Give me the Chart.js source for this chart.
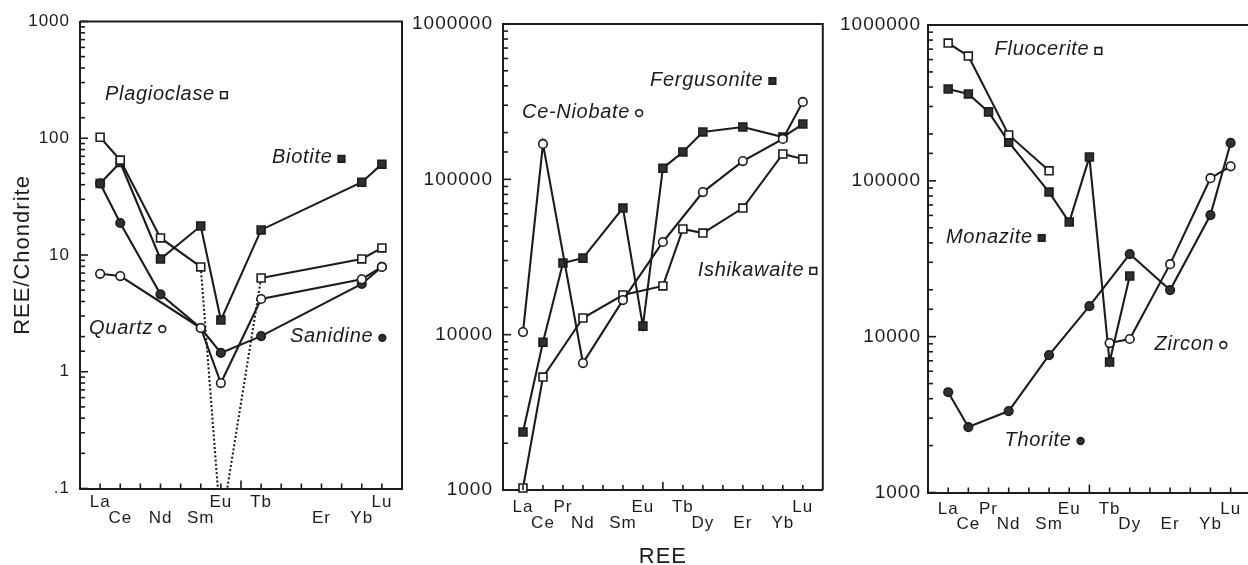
<!DOCTYPE html>
<html>
<head>
<meta charset="utf-8">
<script src="https://cdn.jsdelivr.net/npm/chart.js@4.4.1/dist/chart.umd.min.js"></script>
<style>
  html, body { margin: 0; padding: 0; background: #fff; width: 1248px; height: 565px; overflow: hidden; }
  canvas { position: absolute; top: 0; }
</style>
</head>
<body>
<canvas id="c1" width="410" height="565" style="left:0px"></canvas>
<canvas id="c2" width="425" height="565" style="left:405px"></canvas>
<canvas id="c3" width="428" height="565" style="left:830px"></canvas>
<script>
// ---------- DATA ----------
const elements = ['La','Ce','Pr','Nd','Pm','Sm','Eu','Gd','Tb','Dy','Ho','Er','Tm','Yb','Lu'];
const axisLabels1 = ['La','Ce','Nd','Sm','Eu','Tb','Er','Yb','Lu'];
const axisLabels23 = ['La','Ce','Pr','Nd','Sm','Eu','Tb','Dy','Er','Yb','Lu'];
const lowerRowLabels = ['Ce','Nd','Sm','Dy','Er','Yb'];

const yTickValues1 = [0.1, 1, 10, 100, 1000];
const yTickText1   = ['.1', '1', '10', '100', '1000'];
const yTickValues23 = [1000, 10000, 100000, 1000000];
const yTickText23   = ['1000', '10000', '100000', '1000000'];

// Panel 1 (feldspars, micas, quartz)
const plagioclase = [102, 65, null, 14, null, 7.9, 0.046, null, 6.35, null, null, null, null, 9.25, 11.5];
const biotite     = [41, 62, null, 9.25, null, 17.7, 2.77, null, 16.4, null, null, null, null, 42, 60];
const quartz      = [6.9, 6.6, null, null, null, 2.37, 0.8, null, 4.2, null, null, null, null, 6.2, 7.9];
const sanidine    = [41, 18.8, null, 4.6, null, 2.37, 1.45, null, 2.02, null, null, null, null, 5.65, 7.9];

// Panel 2
const ceNiobate   = [10400, 169000, null, 6560, null, 16700, null, 39500, null, 82800, null, 131000, null, 182000, 315000];
const ishikawaite = [1030, 5330, null, 12800, null, 18000, null, 20600, 47900, 45100, null, 65300, null, 145600, 135000];
const fergusonite = [2360, 8950, 28900, 31100, null, 65300, 11350, 118000, 150000, 202000, null, 217000, null, 187000, 227000];

// Panel 3
const fluocerite  = [766000, 632000, null, 197000, null, 116000, null, null, null, null, null, null, null, null, null];
const monazite    = [388000, 361000, 277000, 177000, null, 84700, 54400, 142000, 6870, 24500, null, null, null, null, null];
const zircon      = [null, null, null, null, null, null, null, null, 9100, 9660, null, 29200, null, 104000, 124000];
const thorite     = [4400, 2630, null, 3330, null, 7620, null, 15700, null, 33900, null, 19900, null, 60300, 175000];

// ---------- STYLE ----------
const FONT = '"Liberation Sans", Arial, Helvetica, sans-serif';
const ink = '#1c1c1c';
const fillInk = '#303030';

function isPow10(v) { const l = Math.log10(v); return Math.abs(l - Math.round(l)) < 1e-6; }

function series(values) {
  return values.map((v, i) => v == null ? null : { x: i, y: v }).filter(Boolean);
}

function ds(label, values, shape, filled, extra) {
  return Object.assign({
    label: label,
    data: series(values),
    borderColor: ink,
    borderWidth: 2.1,
    pointStyle: shape,
    pointRadius: shape === 'rect' ? 5.6 : 4.3,
    pointBorderWidth: 1.6,
    pointBorderColor: ink,
    pointBackgroundColor: filled ? fillInk : '#fff',
    tension: 0,
    fill: false,
    clip: 12
  }, extra || {});
}

const euIndex = elements.indexOf('Eu');

// annotation labels (positions in data units)
const notes1 = [
  { text: 'Plagioclase', x: 0.24, y: 239, shape: 'rect', filled: false },
  { text: 'Biotite', x: 8.54, y: 68, shape: 'rect', filled: true },
  { text: 'Quartz', x: -0.55, y: 2.37, shape: 'circle', filled: false },
  { text: 'Sanidine', x: 9.43, y: 1.99, shape: 'circle', filled: true }
];
const notes2 = [
  { text: 'Fergusonite', x: 6.36, y: 436000, shape: 'rect', filled: true },
  { text: 'Ce-Niobate', x: -0.05, y: 271000, shape: 'circle', filled: false },
  { text: 'Ishikawaite', x: 8.74, y: 26100, shape: 'rect', filled: false }
];
const notes3 = [
  { text: 'Fluocerite', x: 2.3, y: 692000, shape: 'rect', filled: false },
  { text: 'Monazite', x: -0.11, y: 43600, shape: 'rect', filled: true },
  { text: 'Thorite', x: 2.79, y: 2170, shape: 'circle', filled: true },
  { text: 'Zircon', x: 10.23, y: 8970, shape: 'circle', filled: false }
];

const framePlugin = {
  id: 'frame',
  beforeDraw(chart) {
    chart.ctx.letterSpacing = '1px';
  },
  afterDraw(chart, args, opts) {
    const ctx = chart.ctx;
    const a = chart.chartArea;
    const xs = chart.scales.x, ys = chart.scales.y;
    ctx.save();
    ctx.strokeStyle = ink;
    ctx.lineWidth = 2;
    ctx.beginPath();
    ctx.moveTo(a.left, a.top);
    ctx.lineTo(a.right, a.top);
    ctx.lineTo(a.right, a.bottom);
    ctx.stroke();
    // inward tick marks
    ctx.lineWidth = 1.6;
    elements.forEach((el, i) => {
      const px = xs.getPixelForValue(i);
      const len = el === 'Gd' ? 8 : 5;
      ctx.beginPath(); ctx.moveTo(px, a.bottom); ctx.lineTo(px, a.bottom - len); ctx.stroke();
    });
    ys.ticks.forEach(t => {
      const py = ys.getPixelForValue(t.value);
      const len = isPow10(t.value) ? 8 : 5;
      ctx.beginPath(); ctx.moveTo(a.left, py); ctx.lineTo(a.left + len, py); ctx.stroke();
    });
    // annotations
    ctx.font = 'italic 20px ' + FONT;
    ctx.letterSpacing = '0.7px';
    ctx.fillStyle = ink;
    ctx.textBaseline = 'middle';
    ctx.textAlign = 'left';
    (opts.notes || []).forEach(n => {
      const px = xs.getPixelForValue(n.x), py = ys.getPixelForValue(n.y);
      ctx.fillText(n.text, px, py);
      const w = ctx.measureText(n.text).width;
      const mx = px + w + 9, my = py + 1;
      ctx.lineWidth = 1.6;
      ctx.beginPath();
      if (n.shape === 'rect') ctx.rect(mx - 3.3, my - 3.3, 6.6, 6.6);
      else ctx.arc(mx, my, 3.4, 0, Math.PI * 2);
      ctx.fillStyle = n.filled ? fillInk : '#fff';
      ctx.fill();
      ctx.stroke();
      ctx.fillStyle = ink;
    });
    ctx.restore();
  }
};

function makeChart(id, cfg) {
  return new Chart(document.getElementById(id), {
    type: 'line',
    data: { datasets: cfg.datasets },
    options: {
      responsive: false,
      animation: false,
      devicePixelRatio: 1,
      layout: { padding: { left: 0, top: cfg.top, right: cfg.padRight, bottom: 0 } },
      plugins: {
        legend: { display: false },
        tooltip: { enabled: false },
        frame: { notes: cfg.notes }
      },
      scales: {
        x: {
          type: 'linear',
          min: -1, max: 15,
          afterBuildTicks(s) { s.ticks = elements.map((e, i) => ({ value: i })); },
          afterFit(s) { s.height = cfg.xHeight; },
          grid: { display: false, drawTicks: false },
          border: { display: true, color: ink, width: 2 },
          ticks: {
            autoSkip: false, maxRotation: 0, minRotation: 0,
            padding: cfg.xPad,
            color: ink,
            font: { family: FONT, size: 17, lineHeight: '15.5px' },
            callback(v) {
              const el = elements[Math.round(v)];
              if (!cfg.axisLabels.includes(el)) return '';
              return lowerRowLabels.includes(el) ? ['', el] : el;
            }
          },
          title: cfg.xTitle ? {
            display: true, text: cfg.xTitle, color: ink,
            font: { family: FONT, size: 22, lineHeight: '16px' }, padding: 0
          } : { display: false }
        },
        y: {
          type: 'logarithmic',
          min: cfg.yMin, max: cfg.yMax,
          afterFit(s) { s.width = cfg.yWidth; },
          grid: { display: false, drawTicks: false },
          border: { display: true, color: ink, width: 2 },
          ticks: {
            autoSkip: false,
            padding: cfg.yPad,
            color: ink,
            font: { family: FONT, size: cfg.yFont },
            callback(v) {
              if (!isPow10(v)) return '';
              const k = cfg.yValues.findIndex(t => Math.abs(Math.log10(t) - Math.log10(v)) < 1e-6);
              return k >= 0 ? cfg.yText[k] : '';
            }
          },
          title: cfg.yTitle ? {
            display: true, text: cfg.yTitle, color: ink,
            font: { family: FONT, size: 22 }, padding: { top: 10, bottom: 0 }
          } : { display: false }
        }
      }
    },
    plugins: [framePlugin]
  });
}

makeChart('c1', {
  datasets: [
    ds('Quartz', quartz, 'circle', false),
    ds('Sanidine', sanidine, 'circle', true),
    ds('Plagioclase', plagioclase, 'rect', false, {
      clip: 0,
      segment: {
        borderDash: c => (c.p0.parsed.x === euIndex || c.p1.parsed.x === euIndex) ? [2, 2.2] : undefined
      }
    }),
    ds('Biotite', biotite, 'rect', true)
  ],
  notes: notes1,
  top: 21.5, padRight: 8, xHeight: 565 - 488.5, yWidth: 80,
  xPad: 6.25, yPad: 10, yFont: 17,
  yMin: 0.1, yMax: 1000, yValues: yTickValues1, yText: yTickText1,
  axisLabels: axisLabels1, yTitle: 'REE/Chondrite'
});

makeChart('c2', {
  datasets: [
    ds('Ce-Niobate', ceNiobate, 'circle', false),
    ds('Ishikawaite', ishikawaite, 'rect', false),
    ds('Fergusonite', fergusonite, 'rect', true)
  ],
  notes: notes2,
  top: 24, padRight: 5, xHeight: 75, yWidth: 98,
  xPad: 9.75, yPad: 10, yFont: 19,
  yMin: 1000, yMax: 1000000, yValues: yTickValues23, yText: yTickText23,
  axisLabels: axisLabels23, xTitle: 'REE'
});

makeChart('c3', {
  datasets: [
    ds('Zircon', zircon, 'circle', false),
    ds('Fluocerite', fluocerite, 'rect', false),
    ds('Thorite', thorite, 'circle', true),
    ds('Monazite', monazite, 'rect', true)
  ],
  notes: notes3,
  top: 25, padRight: 5, xHeight: 72.5, yWidth: 98,
  xPad: 8.75, yPad: 7, yFont: 19,
  yMin: 1000, yMax: 1000000, yValues: yTickValues23, yText: yTickText23,
  axisLabels: axisLabels23
});
</script>
</body>
</html>
